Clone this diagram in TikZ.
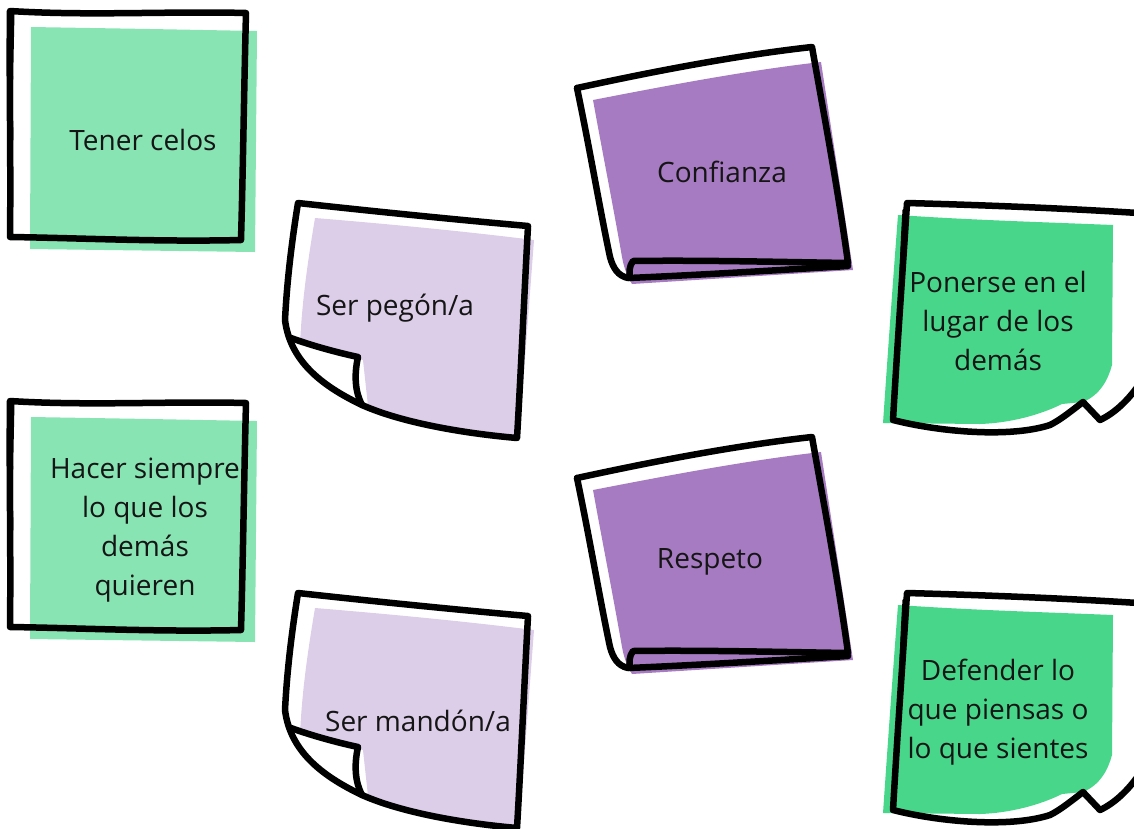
\documentclass[tikz,border=0pt]{standalone}
\usepackage{fontspec}
\setmainfont{Open Sans}
\definecolor{mintA}{HTML}{89E4B4}
\definecolor{mintB}{HTML}{48D68A}
\definecolor{lilacA}{HTML}{DCCDE8}
\definecolor{lilacB}{HTML}{A77BC2}
\definecolor{ink}{HTML}{151515}
\tikzset{
  outl/.style={draw=black,line width=6.5pt,line join=round,line cap=round},
  thin/.style={draw=black,line width=3pt,line join=round,line cap=round},
  lbl/.style={text=ink,font=\fontsize{28}{39}\selectfont,align=center,inner sep=0pt},
  squarenote/.pic={
    \fill[mintA] (31,27) -- (150,29) -- (257,31) -- (255,252) -- (30,249) -- cycle;
    \draw[outl] (10,11) .. controls (90,16) and (170,11) .. (246,13)
      .. controls (244,90) and (243,170) .. (241,240)
      .. controls (160,242) and (80,238) .. (10,237)
      .. controls (11,160) and (9,80) .. (10,11) -- cycle;
    \draw[thin] (13,14) .. controls (12,60) and (11,100) .. (12,140);
  },
  curlnote/.pic={
    \fill[lilacA] (315,218) .. controls (400,225) and (470,232) .. (534,240) -- (519,438)
      .. controls (460,432) and (410,422) .. (368,406) -- (363,360) -- (300,345)
      .. controls (302,300) and (308,260) .. (315,218) -- cycle;
    \fill[white] (293,338) -- (358,357) .. controls (354,375) and (355,392) .. (362,405)
      .. controls (330,390) and (305,365) .. (293,338) -- cycle;
    \draw[outl] (298,203) .. controls (380,212) and (460,220) .. (528,226)
      .. controls (524,300) and (521,370) .. (517,438)
      .. controls (460,433) and (400,422) .. (362,405)
      .. controls (320,385) and (290,360) .. (285,320)
      .. controls (287,280) and (292,240) .. (298,203) -- cycle;
    \draw[outl] (291,338) .. controls (310,345) and (335,352) .. (358,357)
      .. controls (354,375) and (355,392) .. (362,405);
  },
  foldnote/.pic={
    \fill[lilacB] (593,100) .. controls (670,85) and (750,70) .. (821,62) -- (853,270) -- (632,284)
      .. controls (627,276) and (624,268) .. (622,257)
      .. controls (612,200) and (602,150) .. (593,100) -- cycle;
    \draw[outl] (577,88) .. controls (660,70) and (740,55) .. (812,47)
      .. controls (825,120) and (838,190) .. (848,263)
      .. controls (780,262) and (700,260) .. (633,261)
      .. controls (629,266) and (629,273) .. (630,278);
    \draw[outl] (577,88) .. controls (590,150) and (600,210) .. (610,257)
      .. controls (613,268) and (618,276) .. (628,278)
      .. controls (700,275) and (780,270) .. (848,266);
  },
  peelnote/.pic={
    \fill[mintB] (898,215) .. controls (970,220) and (1040,222) .. (1113,225) -- (1112,365)
      .. controls (1108,380) and (1100,395) .. (1083,402) -- (1062,404)
      .. controls (1040,415) and (1010,423) .. (980,424) -- (883,423)
      .. controls (888,350) and (893,280) .. (898,215) -- cycle;
    \draw[outl] (1138,213) .. controls (1060,208) and (980,205) .. (907,203)
      .. controls (902,280) and (897,350) .. (893,420)
      .. controls (940,432) and (1010,438) .. (1050,425)
      .. controls (1060,420) and (1070,412) .. (1083,402) -- (1100,420)
      .. controls (1115,413) and (1128,400) .. (1138,386);
    \draw[thin] (904,210) .. controls (902,240) and (901,270) .. (900,300);
  }
}
\begin{document}
\begin{tikzpicture}[x=1pt,y=-1pt]
\useasboundingbox (0,0) rectangle (1134,828);
\pic at (0,0) {squarenote};
\pic at (0,390) {squarenote};
\pic at (0,0) {curlnote};
\pic at (0,390) {curlnote};
\pic at (0,0) {foldnote};
\pic at (0,390) {foldnote};
\pic at (0,0) {peelnote};
\pic at (0,390) {peelnote};
\node[lbl] (celos) at (143,140) {Tener celos};
\node[lbl] (hacer) at (145,530) {Hacer siempre\\lo que los\\demás\\quieren};
\node[lbl] (pegon) at (395,308) {Ser pegón/a};
\node[lbl] (mandon) at (418,721) {Ser mandón/a};
\node[lbl] (confianza) at (722,172) {Confianza};
\node[lbl] (respeto) at (710,562) {Respeto};
\node[lbl] (ponerse) at (998,321) {Ponerse en el\\lugar de los\\demás};
\node[lbl] (defender) at (998,712) {Defender lo\\que piensas o\\lo que sientes};
\end{tikzpicture}
\end{document}
